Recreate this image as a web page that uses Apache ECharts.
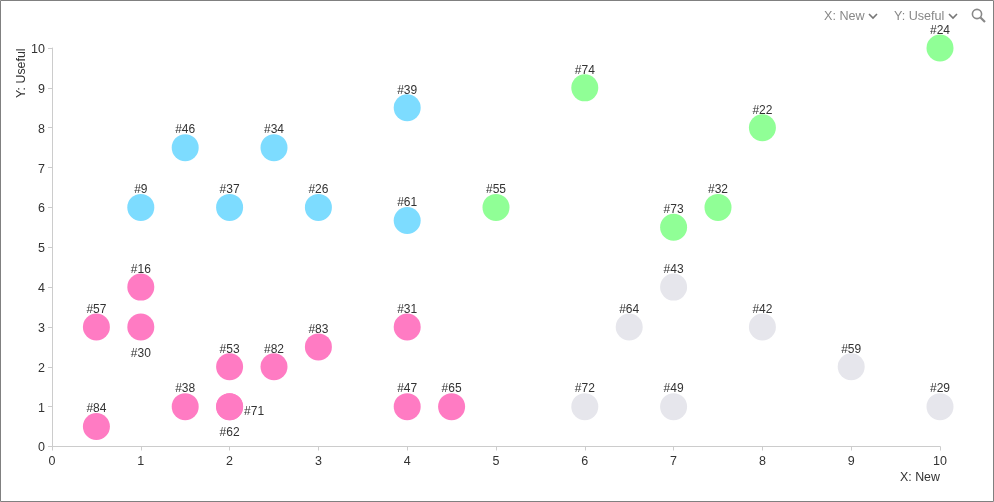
<!DOCTYPE html>
<html>
<head>
<meta charset="utf-8">
<script src="https://cdn.jsdelivr.net/npm/echarts@6/dist/echarts.min.js"></script>
<style>
html, body { margin: 0; padding: 0; background: #fff; }
#chart { width: 994px; height: 502px; }
</style>
</head>
<body>
<div id="chart"></div>
<script>
// [x, y, label id, label position]
var pinkPoints = [
  [0.5, 3, '#57', 'top'], [1, 4, '#16', 'top'], [1, 3, '#30', 'bottom'],
  [0.5, 0.5, '#84', 'top'], [1.5, 1, '#38', 'top'], [2, 1, '#62', 'bottom'],
  [2, 1, '#71', 'right'], [2, 2, '#53', 'top'], [2.5, 2, '#82', 'top'],
  [3, 2.5, '#83', 'top'], [4, 3, '#31', 'top'], [4, 1, '#47', 'top'], [4.5, 1, '#65', 'top']
];
var bluePoints = [
  [1, 6, '#9', 'top'], [2, 6, '#37', 'top'], [3, 6, '#26', 'top'],
  [1.5, 7.5, '#46', 'top'], [2.5, 7.5, '#34', 'top'], [4, 8.5, '#39', 'top'], [4, 5.67, '#61', 'top']
];
var greenPoints = [
  [5, 6, '#55', 'top'], [6, 9, '#74', 'top'], [8, 8, '#22', 'top'],
  [10, 10, '#24', 'top'], [7, 5.5, '#73', 'top'], [7.5, 6, '#32', 'top']
];
var greyPoints = [
  [6.5, 3, '#64', 'top'], [7, 4, '#43', 'top'], [8, 3, '#42', 'top'], [9, 2, '#59', 'top'],
  [6, 1, '#72', 'top'], [7, 1, '#49', 'top'], [10, 1, '#29', 'top']
];

var font = '"Liberation Sans", Arial, sans-serif';
var chart = echarts.init(document.getElementById('chart'), null, {renderer: 'canvas'});

function labelFor(p) {
  var label = {show: true, position: p[3], formatter: p[2], color: '#333', fontSize: 12, fontFamily: font};
  if (p[3] === 'top') {
    label.distance = -2;
  } else if (p[3] === 'bottom') {
    label.distance = 7;
  } else {
    label.distance = 1;
    label.offset = [0, 5];
  }
  return label;
}

function scatterSeries(points, color) {
  return {
    type: 'scatter',
    symbolSize: 27,
    itemStyle: {color: color, opacity: 1},
    data: points.map(function (p) {
      return {value: [p[0], p[1]], label: labelFor(p)};
    })
  };
}

var axisBase = {
  type: 'value',
  min: 0,
  max: 10,
  interval: 1,
  splitLine: {show: false},
  axisLine: {lineStyle: {color: '#ccc'}},
  axisTick: {length: 4, lineStyle: {color: '#ccc'}}
};

chart.setOption({
  animation: false,
  grid: {left: 52, right: 54, top: 48, bottom: 55.5},
  xAxis: Object.assign({}, axisBase, {axisLabel: {color: '#333', fontSize: 12.5, fontFamily: font, margin: 9}}),
  yAxis: Object.assign({}, axisBase, {axisLabel: {color: '#333', fontSize: 12.5, fontFamily: font, margin: 7, verticalAlign: 'top', lineHeight: 3}}),
  series: [
    scatterSeries(pinkPoints, '#ff7bc3'),
    scatterSeries(bluePoints, '#7ddcff'),
    scatterSeries(greenPoints, '#90ff96'),
    scatterSeries(greyPoints, '#e6e6ec')
  ],
  graphic: [
    {type: 'rect', silent: true, shape: {x: 0.5, y: 0.5, width: 993, height: 501},
      style: {fill: 'none', stroke: '#808080', lineWidth: 1}},
    {type: 'text', x: 900, y: 472, style: {text: 'X: New', fill: '#333', font: '12.4px ' + font}},
    {type: 'text', x: 15.5, y: 98, rotation: Math.PI / 2, style: {text: 'Y: Useful', fill: '#333', font: '12.4px ' + font}},
    {type: 'text', x: 824, y: 10, style: {text: 'X: New', fill: '#888', font: '12.6px ' + font}},
    {type: 'text', x: 894, y: 10, style: {text: 'Y: Useful', fill: '#888', font: '12.6px ' + font}},
    {type: 'polyline', shape: {points: [[869, 14], [873, 18], [877, 14]]}, style: {fill: 'none', stroke: '#777', lineWidth: 1.6}},
    {type: 'polyline', shape: {points: [[949, 14], [953, 18], [957, 14]]}, style: {fill: 'none', stroke: '#777', lineWidth: 1.6}},
    {type: 'circle', shape: {cx: 977, cy: 14, r: 4.6}, style: {fill: 'none', stroke: '#888', lineWidth: 1.6}},
    {type: 'line', shape: {x1: 980.5, y1: 17.5, x2: 985, y2: 22}, style: {stroke: '#888', lineWidth: 2.2}}
  ]
});
</script>
</body>
</html>
